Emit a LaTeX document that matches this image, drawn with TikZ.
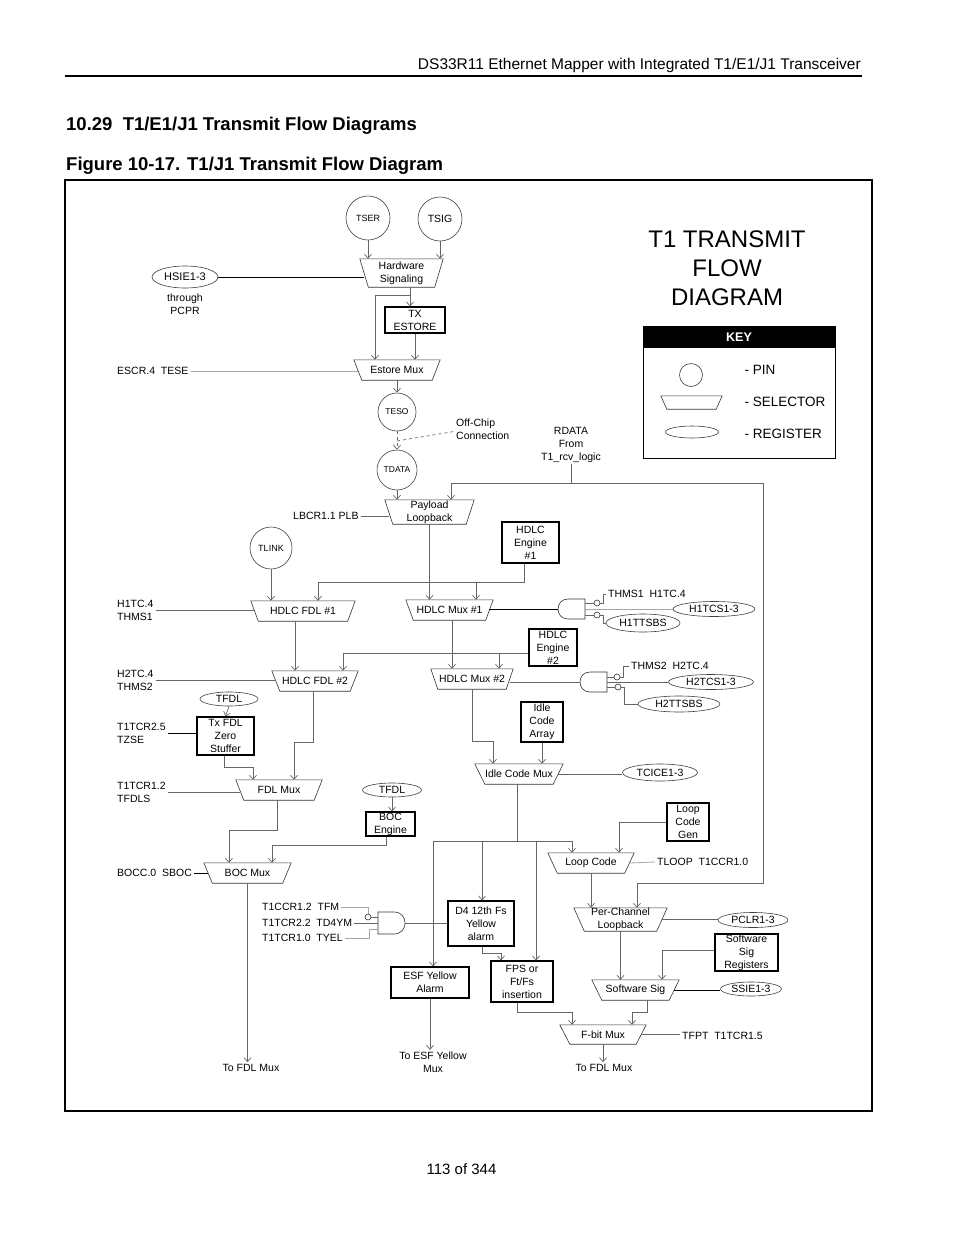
\documentclass[tikz,border=0pt]{standalone}
\usepackage{fontspec}
\setmainfont{Liberation Sans}
\usetikzlibrary{calc,arrows.meta,shapes.geometric}
\newcommand\selnode[7]{%
  \node[seltxt, minimum width=#4pt, minimum height=#6pt] (#1) at (#2,#3) {#7};
  \draw[selbd] (#1.north west) -- (#1.north east) -- ([xshift=-#5pt]#1.south east) -- ([xshift=#5pt]#1.south west) -- cycle;
  \coordinate (#1-l) at ($(#1.west)+(#5/2,0)$);
  \coordinate (#1-r) at ($(#1.east)-(#5/2,0)$);
}
\tikzset{
  lbl/.style={font=\fontsize{10.5}{13}\selectfont, inner sep=2pt, align=center},
  lbll/.style={font=\fontsize{10.5}{13}\selectfont, inner sep=2pt, align=left, anchor=west},
  pin/.style={circle, draw=black!75, line width=0.6pt, inner sep=0pt},
  reg/.style={ellipse, draw=black!75, line width=0.6pt, inner sep=0pt, font=\fontsize{10.5}{13}\selectfont},
  blk/.style={rectangle, draw=black, line width=1.1pt, inner sep=0pt, align=center, font=\fontsize{10.5}{13}\selectfont},
  seltxt/.style={rectangle, inner sep=0pt, align=center, font=\fontsize{10.5}{13}\selectfont},
  selbd/.style={draw=black!80, line width=0.6pt},
  conn/.style={draw=black!60, line width=0.7pt},
  arr/.style={conn, -{Straight Barb[length=4pt,width=7pt]}},
  lite/.style={draw=black!35, line width=0.8pt},
  dark/.style={draw=black, line width=0.9pt},
  gate/.style={draw=black!80, line width=0.6pt},
}
\begin{document}
\begin{tikzpicture}[x=1pt,y=-1pt]
\useasboundingbox (0,0) rectangle (954,1235);
\fill[white] (0,0) rectangle (954,1235);

% page header / titles
\node[anchor=base east, inner sep=0pt, font=\fontsize{15.5}{18}\selectfont] (hdr) at (861,69.5) {DS33R11 Ethernet Mapper with Integrated T1/E1/J1 Transceiver};
\draw[line width=1.2pt] (65,76) -- (862,76);
\node[anchor=base west, inner sep=0pt, font=\bfseries\fontsize{18.5}{22}\selectfont] (sec) at (66,130.5) {10.29\ \ T1/E1/J1 Transmit Flow Diagrams};
\node[anchor=base west, inner sep=0pt, font=\bfseries\fontsize{18.5}{22}\selectfont] (fig) at (66,170.5) {Figure 10-17. T1/J1 Transmit Flow Diagram};
\node[anchor=base, inner sep=0pt, font=\fontsize{15}{18}\selectfont] (pg) at (461.5,1174.5) {113 of 344};
\draw[line width=1.2pt] (65,180) rectangle (872,1111);

% title and key
\node[align=center, font=\fontsize{24}{29}\selectfont] (title) at (727,268) {T1 TRANSMIT\\FLOW\\DIAGRAM};
\draw[line width=1pt] (643,326) rectangle (835,458);
\fill[black] (643,326) rectangle (835,348);
\node[text=white, font=\bfseries\fontsize{12.5}{15}\selectfont] (keyt) at (739,337) {KEY};
\node[pin, minimum size=23pt] (keypin) at (691,375) {};
\selnode{keysel}{691.5}{402.5}{61}{6}{13}{}
\node[reg, minimum width=53pt, minimum height=12pt] (keyreg) at (692,432) {};
\node[anchor=west, font=\fontsize{13.5}{16}\selectfont] (kpin) at (741,370) {- PIN};
\node[anchor=west, font=\fontsize{13.5}{16}\selectfont] (ksel) at (741,402) {- SELECTOR};
\node[anchor=west, font=\fontsize{13.5}{16}\selectfont] (kreg) at (741,434) {- REGISTER};

% pins
\node[pin, minimum size=44pt, font=\fontsize{9}{11}\selectfont] (tser) at (368,218) {TSER};
\node[pin, minimum size=44pt, font=\fontsize{10.5}{12}\selectfont] (tsig) at (440,219) {TSIG};
\node[pin, minimum size=38pt, font=\fontsize{8.5}{11}\selectfont] (teso) at (397,412) {TESO};
\node[pin, minimum size=40pt, font=\fontsize{8.5}{11}\selectfont] (tdata) at (397,470) {TDATA};
\node[pin, minimum size=42pt, font=\fontsize{9}{11}\selectfont] (tlink) at (271,548) {TLINK};

% selectors
\selnode{hws}{401.5}{273}{83}{8.5}{28}{Hardware\\Signaling}
\selnode{estore}{397}{370}{86}{8}{20}{Estore Mux}
\selnode{plb}{429.5}{512}{89}{8}{24}{Payload\\Loopback}
\selnode{hfdl1}{303}{611}{104}{7.5}{20}{HDLC FDL \#1}
\selnode{hfdl2}{315}{681}{86}{8}{20}{HDLC FDL \#2}
\selnode{hmux1}{449.5}{610}{87}{7.5}{20}{HDLC Mux \#1}
\selnode{hmux2}{472}{679}{82}{7}{20}{HDLC Mux \#2}
\selnode{idlemux}{519}{774}{88}{10}{20}{Idle Code Mux}
\selnode{fdlmux}{279}{790}{86}{8}{20}{FDL Mux}
\selnode{bocmux}{247.5}{873}{87}{8.5}{20}{BOC Mux}
\selnode{loopcode}{591}{863}{86}{9.5}{20}{Loop Code}
\selnode{pcl}{620.5}{919.5}{93}{10.5}{23}{Per-Channel\\Loopback}
\selnode{swsig}{635.5}{990}{87}{10}{20}{Software Sig}
\selnode{fbit}{603}{1034.5}{86}{10}{19}{F-bit Mux}

% blocks
\node[blk, minimum width=60pt, minimum height=26pt] (txestore) at (415,320) {TX\\ESTORE};
\node[blk, minimum width=57pt, minimum height=41pt] (eng1) at (530.5,542.5) {HDLC\\Engine\\\#1};
\node[blk, minimum width=48pt, minimum height=37pt] (eng2) at (553,647.5) {HDLC\\Engine\\\#2};
\node[blk, minimum width=42pt, minimum height=40pt] (idlearr) at (542,722) {Idle\\Code\\Array};
\node[blk, minimum width=57pt, minimum height=38pt] (txfdl) at (225.5,736) {Tx FDL\\Zero\\Stuffer};
\node[blk, minimum width=49pt, minimum height=24pt] (bocengine) at (390.5,824) {BOC\\Engine};
\node[blk, minimum width=42pt, minimum height=38pt] (loopgen) at (688,822) {Loop\\Code\\Gen};
\node[blk, minimum width=66pt, minimum height=45pt] (d4) at (481,923.5) {D4 12th Fs\\Yellow\\alarm};
\node[blk, minimum width=62pt, minimum height=41pt] (fps) at (522,981.5) {FPS or\\Ft/Fs\\insertion};
\node[blk, minimum width=78pt, minimum height=31pt] (esf) at (430,982.5) {ESF Yellow\\Alarm};
\node[blk, minimum width=63pt, minimum height=37pt] (swregs) at (746.5,952.5) {Software\\Sig\\Registers};

% registers
\node[reg, minimum width=66pt, minimum height=22pt, font=\fontsize{11}{13}\selectfont] (hsie) at (185,277) {HSIE1-3};
\node[reg, minimum width=82pt, minimum height=15pt] (h1tcs) at (714,609) {H1TCS1-3};
\node[reg, minimum width=74pt, minimum height=18pt] (h1ttsbs) at (643,623) {H1TTSBS};
\node[reg, minimum width=85pt, minimum height=15pt] (h2tcs) at (711,682) {H2TCS1-3};
\node[reg, minimum width=82pt, minimum height=16pt] (h2ttsbs) at (679,704) {H2TTSBS};
\node[reg, minimum width=75pt, minimum height=17pt] (tcice) at (660,772.5) {TCICE1-3};
\node[reg, minimum width=58pt, minimum height=14pt] (tfdl1) at (229,699) {TFDL};
\node[reg, minimum width=59pt, minimum height=14pt] (tfdl2) at (392,790) {TFDL};
\node[reg, minimum width=70pt, minimum height=15pt] (pclr) at (753,920) {PCLR1-3};
\node[reg, minimum width=61pt, minimum height=14pt] (ssie) at (751,989) {SSIE1-3};

% text labels
\node[lbl] (through) at (185,304.5) {through\\PCPR};
\node[lbll] (escr) at (115,371) {ESCR.4\ \ TESE};
\node[lbll] (offchip) at (454,429.5) {Off-Chip\\Connection};
\node[lbl] (rdata) at (571,444.5) {RDATA\\From\\T1\_rcv\_logic};
\node[lbll] (lbcr) at (291,516) {LBCR1.1 PLB};
\node[lbll] (h1tc) at (115,610.5) {H1TC.4\\THMS1};
\node[lbll] (h2tc) at (115,680.5) {H2TC.4\\THMS2};
\node[lbll] (thms1) at (606,594) {THMS1\ \ H1TC.4};
\node[lbll] (thms2) at (629,666) {THMS2\ \ H2TC.4};
\node[lbll] (t1tcr25) at (115,733.5) {T1TCR2.5\\TZSE};
\node[lbll] (t1tcr12) at (115,792.5) {T1TCR1.2\\TFDLS};
\node[lbll] (bocc) at (115,873) {BOCC.0\ \ SBOC};
\node[lbll] (tfm) at (260,907) {T1CCR1.2\ \ TFM};
\node[lbll] (td4ym) at (260,923) {T1TCR2.2\ \ TD4YM};
\node[lbll] (tyel) at (260,938) {T1TCR1.0\ \ TYEL};
\node[lbll] (tloop) at (655,862) {TLOOP\ \ T1CCR1.0};
\node[lbll] (tfpt) at (680,1036) {TFPT\ \ T1TCR1.5};
\node[lbl] (tofdl1) at (251,1068) {To FDL Mux};
\node[lbl] (toesf) at (433,1062.5) {To ESF Yellow\\Mux};
\node[lbl] (tofdl2) at (604,1068) {To FDL Mux};

% logic gates
\draw[gate] (585,599) -- (568,599) .. controls (554.7,599) and (554.7,619) .. (568,619) -- (585,619) -- cycle;
\coordinate (g1o) at (558,609);
\coordinate (g1a) at (585,603);
\coordinate (g1b) at (585,609);
\coordinate (g1c) at (585,615);
\draw[gate] (607,672) -- (590,672) .. controls (576.7,672) and (576.7,692) .. (590,692) -- (607,692) -- cycle;
\coordinate (g2o) at (580,682);
\coordinate (g2a) at (607,677);
\coordinate (g2b) at (607,682);
\coordinate (g2c) at (607,687);
\draw[gate] (378,912) -- (394,912) .. controls (408.7,912) and (408.7,934) .. (394,934) -- (378,934) -- cycle;
\coordinate (g3o) at (405,923);
\coordinate (g3a) at (378,917);
\coordinate (g3b) at (378,923);
\coordinate (g3c) at (378,929);

% ---- connectors ----
\draw[arr] (tser.south) -- (tser.south |- hws.north);
\draw[arr] (tsig.south) -- (tsig.south |- hws.north);
\draw[dark] (hsie.east) -- (hsie.east -| hws-l);
\coordinate (hj) at (410,295);
\draw[arr] ([xshift=8.5pt]hws.south) -- ([xshift=8.5pt]hws.south |- txestore.north);
\draw[arr] (hj) -| ([xshift=-22pt]estore.north);
\draw[arr] (txestore.south) -- (txestore.south |- estore.north);
\draw[lite] (escr.east) -- (escr.east -| estore-l);
\draw[arr] (estore.south) -- (teso.north);
\draw[arr, dashed] (teso.south) -- (tdata.north);
\coordinate (dmid) at (397,441);
\draw[conn, dashed] (dmid) -- ([yshift=-2pt]offchip.west);
\draw[arr] (tdata.south) -- (tdata.south |- plb.north);
\coordinate (rj) at (571,483);
\draw[conn] (rdata.south) -- (rj);
\draw[arr] (rj) -| ([xshift=21.5pt]plb.north);
\coordinate (rk) at (763,883);
\draw[arr] (rj) -| (rk) -| ([xshift=16.5pt]pcl.north);
\draw[conn] (lbcr.east) -- (lbcr.east -| plb-l);
\draw[arr] (plb.south) -- (plb.south |- hmux1.north);
\coordinate (e1j) at (524,582);
\coordinate (e1k) at (476,582);
\draw[arr] ([xshift=-6.5pt]eng1.south) -- (e1j) -| ([xshift=15pt]hfdl1.north);
\draw[arr] (e1k) -- ([xshift=26.5pt]hmux1.north);
\draw[arr] (tlink.south) -- (tlink.south |- hfdl1.north);
\draw[conn] (h1tc.east) -- (h1tc.east -| hfdl1-l);
\draw[arr] ([xshift=-8pt]hfdl1.south) -- ([xshift=-8pt]hfdl1.south |- hfdl2.north);
\coordinate (e2j) at (499,653);
\draw[arr] ([yshift=-5.5pt]eng2.west) -| ([xshift=28pt]hfdl2.north);
\draw[arr] (e2j) -- ([xshift=27pt]hmux2.north);
\draw[conn] (h2tc.east) -- (h2tc.east -| hfdl2-l);
\draw[arr] ([xshift=2.5pt]hmux1.south) -- ([xshift=2.5pt]hmux1.south |- hmux2.north);
% gate 1
\draw[dark] (g1o) -- (g1o -| hmux1-r);
\draw[conn] (g1a) -- ++(9,0);
\draw[gate] (597,603) circle[radius=3pt];
\draw[conn] (600,603) -- (603,603) |- (thms1.west);
\draw[lite] (g1b) -- (g1b -| h1tcs.west);
\draw[conn] (g1c) -- ++(9,0);
\draw[gate] (597,615) circle[radius=3pt];
\draw[conn] (600,615) -- (603,615) |- (h1ttsbs.west);
% gate 2
\draw[conn] (g2o) -- (g2o -| hmux2-r);
\draw[conn] (g2a) -- ++(7,0);
\draw[gate] (617,677) circle[radius=3pt];
\draw[conn] (620,677) -- (623,677) |- (thms2.west);
\draw[conn] (g2b) -- (g2b -| h2tcs.west);
\draw[conn] (g2c) -- ++(8,0);
\draw[gate] (618,687) circle[radius=3pt];
\draw[conn] (621,687) -- (624,687) |- (h2ttsbs.west);
% idle code
\draw[arr] (hmux2.south) |- (493,741) -- ([xshift=-26pt]idlemux.north);
\draw[arr] (idlearr.south) -- (idlearr.south |- idlemux.north);
\draw[conn] (idlemux-r) -- (idlemux-r -| tcice.west);
\coordinate (ij) at (517,841);
\coordinate (ik) at (482,841);
\coordinate (il) at (536,841);
\draw[conn] ([xshift=-2pt]idlemux.south) -- (ij);
\draw[arr] (ij) -| ([xshift=3pt]esf.north);
\draw[arr] (ij) -| ([xshift=-19pt]loopcode.north);
\draw[arr] (ik) -- (ik |- d4.north);
\draw[arr] (il) -- (il |- fps.north);
\draw[arr] (loopgen.west) -| ([xshift=28pt]loopcode.north);
\draw[arr] (loopcode.south) -- (loopcode.south |- pcl.north);
\draw[lite] (loopcode-r) -- (tloop.west);
\draw[conn] (pcl-r) -- (pcl-r -| pclr.west);
\draw[arr] (pcl.south) -- (pcl.south |- swsig.north);
\draw[arr] ([yshift=2.5pt]swregs.west) -| ([xshift=26.5pt]swsig.north);
\draw[dark] (swsig-r) -- (swsig-r -| ssie.west);
\draw[arr] ([xshift=11.5pt]swsig.south) |- (632,1012) -- ([xshift=29pt]fbit.north);
\draw[arr] ([xshift=-5pt]fps.south) |- (572,1012) -- ([xshift=-31pt]fbit.north);
\draw[conn] (fbit-r) -- (fbit-r -| tfpt.west);
\draw[arr] (fbit.south) -- (fbit.south |- tofdl2.north);
\draw[arr] ([xshift=1pt]d4.south) |- (501,953) -- ([xshift=-21pt]fps.north);
\draw[arr] (esf.south) -- (esf.south |- toesf.north);
% gate 3
\draw[conn] (g3o) -- (g3o -| d4.west);
\draw[lite] (tfm.east) -| (368,914);
\draw[gate] (368,917) circle[radius=3pt];
\draw[conn] (371,917) -- (g3a);
\draw[conn] (td4ym.east) -- (g3b);
\draw[lite] (tyel.east) -| (369,929) -- (g3c);
% left column
\draw[arr] (tfdl1.south) -- (txfdl.north);
\draw[dark] (t1tcr25.east) -- (t1tcr25.east -| txfdl.west);
\draw[arr] ([xshift=-2pt]hfdl2.south) |- (294,742) -- ([xshift=15pt]fdlmux.north);
\draw[arr] ([xshift=-1.5pt]txfdl.south) |- (253,767) -- ([xshift=-26pt]fdlmux.north);
\draw[conn] (t1tcr12.east) -- (t1tcr12.east -| fdlmux-l);
\draw[arr] (tfdl2.south) -- (tfdl2.south |- bocengine.north);
\draw[arr] ([xshift=-2pt]fdlmux.south) |- (229,830) -- ([xshift=-18.5pt]bocmux.north);
\draw[arr] ([xshift=-4.5pt]bocengine.south) |- (272,845) -- ([xshift=24.5pt]bocmux.north);
\draw[dark] (bocc.east) -- (bocc.east -| bocmux-l);
\draw[arr] (bocmux.south) -- (bocmux.south |- tofdl1.north);
\end{tikzpicture}
\end{document}
